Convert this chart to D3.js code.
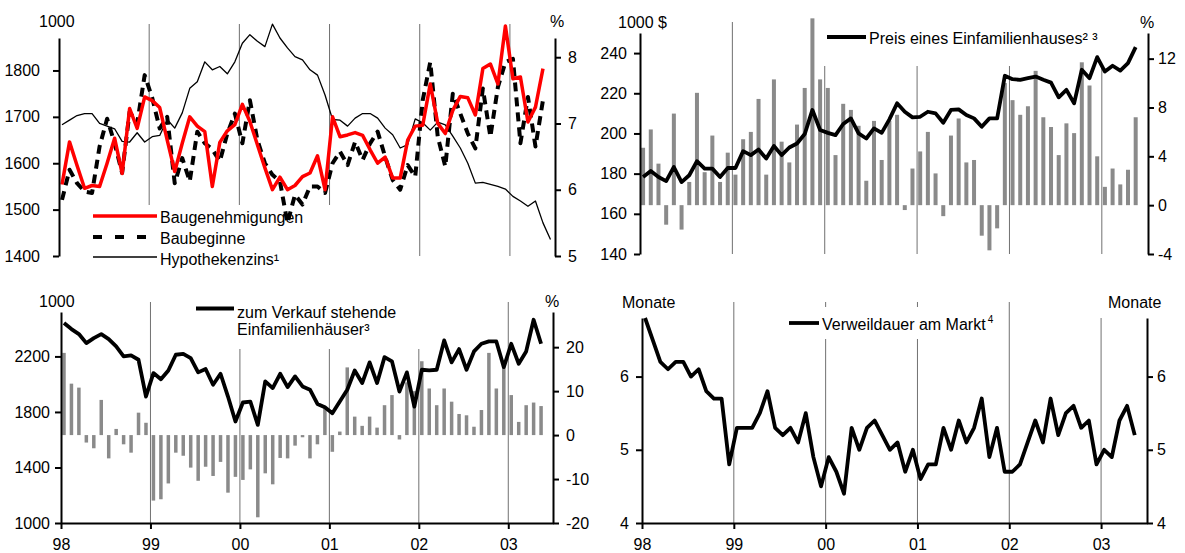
<!DOCTYPE html>
<html>
<head>
<meta charset="utf-8">
<script src="https://cdn.jsdelivr.net/npm/d3@7"></script>
<style>
  body { margin: 0; background: #fff; }
  svg text { font-family: "Liberation Sans", Arial, Helvetica, sans-serif; font-size: 16px; fill: #000; }
</style>
</head>
<body>
<svg id="chart" width="1185" height="553"></svg>
<script>
// monthly data, Jan 1998 .. May 2003 (Hypothekenzins to Jun 2003)
const years = ["98", "99", "00", "01", "02", "03"];

const baugenehmigungen = [1554, 1646, 1595, 1546, 1552, 1550, 1600, 1654, 1578, 1718, 1675, 1743,
  1735, 1720, 1650, 1582, 1643, 1700, 1680, 1668, 1550, 1645, 1670, 1683,
  1727, 1690, 1640, 1590, 1543, 1570, 1543, 1552, 1571, 1579, 1616, 1543,
  1700, 1657, 1661, 1666, 1660, 1629, 1600, 1613, 1568, 1568, 1650, 1680,
  1682, 1771, 1686, 1664, 1714, 1744, 1741, 1704, 1804, 1814, 1771, 1896,
  1782, 1786, 1689, 1721, 1804];

const baubeginne = [1521, 1586, 1557, 1539, 1536, 1636, 1696, 1643, 1579, 1711, 1686, 1790,
  1741, 1675, 1700, 1557, 1611, 1561, 1668, 1643, 1630, 1604, 1664, 1707,
  1643, 1736, 1650, 1600, 1575, 1561, 1471, 1532, 1511, 1550, 1550, 1536,
  1600, 1625, 1596, 1646, 1607, 1643, 1668, 1614, 1564, 1543, 1596, 1571,
  1736, 1818, 1657, 1593, 1750, 1707, 1664, 1632, 1761, 1657, 1764, 1818,
  1825, 1643, 1743, 1636, 1736];

const hypothekenzins = [6.98, 7.05, 7.12, 7.15, 7.15, 7.0, 6.96, 6.92, 6.73, 6.72, 6.86, 6.72,
  6.8, 6.82, 7.06, 6.93, 7.16, 7.53, 7.63, 7.93, 7.81, 7.86, 7.75, 7.93,
  8.21, 8.34, 8.24, 8.16, 8.5, 8.29, 8.14, 8.01, 7.96, 7.81, 7.73, 7.43,
  7.06, 7.05, 6.96, 7.08, 7.15, 7.15, 7.08, 6.93, 6.83, 6.63, 6.68, 7.07,
  7.01, 6.9, 7.02, 6.98, 6.81, 6.63, 6.4, 6.1, 6.11, 6.08, 6.05, 6.01,
  5.9, 5.83, 5.75, 5.83, 5.5, 5.25];

const hauspreis = [178.3, 181.3, 178.3, 176.3, 183.3, 175.8, 179.2, 186.2, 182.5, 182.5, 178.3, 182.8,
  182.8, 191.2, 189.2, 192, 187.5, 193.8, 189.2, 193, 195, 199.7, 211.7, 201.7,
  200.3, 199.2, 204.7, 207.5, 200, 197.5, 202.5, 200.3, 207, 215, 210.8, 208,
  208.3, 210.8, 210, 205.3, 211.7, 212, 209.2, 207.5, 203.3, 207.5, 207.5, 228.7,
  227, 226.7, 227.5, 228.3, 226.7, 225.3, 218, 221.7, 215, 231.7, 227.5, 238,
  230.8, 233.7, 231.3, 235, 243];

const hauspreisVj = [4.7, 6.2, 3.4, -1.6, 7.5, -2.0, 1.9, 9.2, 2.7, 5.7, 1.9, 4.3,
  2.5, 5.4, 6.0, 8.7, 2.5, 10.3, 5.2, 3.5, 6.6, 9.6, 15.3, 10.3,
  9.6, 4.1, 8.3, 7.8, 6.5, 2.0, 6.9, 3.7, 6.9, 7.4, -0.4, 3.0,
  4.4, 6.0, 2.6, -0.9, 5.7, 7.1, 3.5, 3.7, -2.5, -3.7, -1.9, 10.0,
  8.6, 7.4, 8.1, 11.0, 7.2, 6.4, 4.1, 6.7, 5.9, 11.7, 9.8, 4.0,
  1.5, 3.0, 1.7, 2.9, 7.2];

const angebot = [2440, 2397, 2361, 2296, 2332, 2361, 2325, 2272, 2200, 2207, 2176, 1911,
  2080, 2036, 2099, 2212, 2219, 2188, 2085, 2109, 1996, 2075, 1911, 1731,
  1868, 1875, 1707, 2020, 1972, 2075, 1979, 2056, 1984, 1960, 1858, 1834,
  1791, 1875, 1960, 2099, 2008, 2157, 2008, 2195, 2164, 1947, 2085, 1839,
  2104, 2099, 2104, 2315, 2157, 2253, 2104, 2236, 2291, 2308, 2308, 2123,
  2291, 2147, 2236, 2464, 2291];

const angebotVj = [18.7, 11.7, 10.8, -1.7, -3.0, 8.0, -5.3, 1.4, -2.1, -4.0, 5.1, 2.8,
  -14.9, -14.6, -11.0, -4.0, -4.7, -7.4, -10.4, -7.2, -9.3, -6.1, -13.1, -9.5,
  -10.2, -7.8, -18.7, -8.7, -11.2, -5.2, -5.3, -2.4, -0.5, -5.3, -2.1, 6.1,
  -3.8, 0.8, 15.4, 4.2, 2.1, 4.2, 1.7, 6.8, 9.1, -1.0, 12.0, 10.0,
  16.8, 10.6, 6.8, 10.6, 7.6, 4.8, 4.5, 1.9, 5.7, 18.7, 10.6, 15.4,
  9.1, 3.0, 6.8, 7.4, 6.6];

const verweildauer = [6.8, 6.5, 6.2, 6.1, 6.2, 6.2, 6.0, 6.1, 5.8, 5.7, 5.7, 4.8,
  5.3, 5.3, 5.3, 5.5, 5.8, 5.3, 5.2, 5.3, 5.1, 5.5, 4.9, 4.5,
  4.9, 4.7, 4.4, 5.3, 5.0, 5.3, 5.4, 5.2, 5.0, 5.1, 4.7, 5.0,
  4.6, 4.8, 4.8, 5.3, 5.0, 5.4, 5.1, 5.3, 5.7, 4.9, 5.3, 4.7,
  4.7, 4.8, 5.1, 5.4, 5.1, 5.7, 5.2, 5.5, 5.6, 5.3, 5.4, 4.8,
  5.0, 4.9, 5.4, 5.6, 5.2];

const svg = d3.select("#chart");
const MONTHS = 66;      // Jan 98 .. Jul 03
const OFF = 0.4;        // point position inside its month
const plain = d => String(d);   // "1800", "-4" (no grouping, plain hyphen)

function drawPanel(cfg) {
  const g = svg.append("g");
  const x = d3.scaleLinear().domain([0, MONTHS]).range([cfg.left, cfg.right]);
  const yL = d3.scaleLinear().domain(cfg.leftDomain).range([cfg.bottom, cfg.top]);
  const yR = d3.scaleLinear().domain(cfg.rightDomain).range([cfg.bottom, cfg.top]);

  // year separators
  g.selectAll(".yr").data([12, 24, 36, 48, 60]).join("line")
    .attr("x1", d => x(d)).attr("x2", d => x(d))
    .attr("y1", cfg.gridTop).attr("y2", cfg.bottom)
    .attr("stroke", "#707070").attr("stroke-width", 1);

  // white patches where the legend cuts the separators
  cfg.masks.forEach(m => {
    g.append("rect").attr("x", m[0]).attr("y", m[1]).attr("width", m[2]).attr("height", m[3]).attr("fill", "#fff");
  });

  // bars (right axis)
  if (cfg.bars) {
    g.selectAll(".bar").data(cfg.bars).join("rect")
      .attr("x", (d, i) => x(i + OFF) - cfg.barW / 2)
      .attr("width", cfg.barW)
      .attr("y", d => Math.min(yR(d), yR(0)))
      .attr("height", d => Math.abs(yR(d) - yR(0)))
      .attr("fill", "#8a8a8a");
  }

  // lines
  cfg.lines.forEach(l => {
    const sc = l.axis === "right" ? yR : yL;
    const gen = d3.line().x((d, i) => x(i + OFF)).y(d => sc(d));
    g.append("path").datum(l.data)
      .attr("d", gen)
      .attr("fill", "none")
      .attr("stroke", l.color)
      .attr("stroke-width", l.width)
      .attr("stroke-dasharray", l.dash || null)
      .attr("stroke-linejoin", "round");
  });

  // axes
  const la = g.append("g").attr("transform", `translate(${cfg.left},0)`)
    .call(d3.axisLeft(yL).tickValues(cfg.leftTicks).tickFormat(plain)
      .tickSize(6).tickSizeOuter(0).tickPadding(cfg.leftPad));
  const ra = g.append("g").attr("transform", `translate(${cfg.right},0)`)
    .call(d3.axisRight(yR).tickValues(cfg.rightTicks).tickFormat(plain)
      .tickSize(6).tickSizeOuter(0).tickPadding(cfg.rightPad));
  [la, ra].forEach(a => {
    a.select(".domain").attr("stroke", "#000").attr("stroke-width", 2);
    a.selectAll(".tick line").attr("stroke", "#000").attr("stroke-width", 2);
    a.selectAll("text").attr("font-size", 16).attr("font-family", null);
  });

  if (cfg.xAxis) {
    const xa = g.append("g").attr("transform", `translate(0,${cfg.bottom})`)
      .call(d3.axisBottom(x).tickValues([0, 12, 24, 36, 48, 60])
        .tickFormat((d, i) => years[i]).tickSize(6).tickSizeOuter(0).tickPadding(10));
    xa.select(".domain").attr("stroke", "#000").attr("stroke-width", 2);
    xa.selectAll(".tick line").attr("stroke", "#000").attr("stroke-width", 2);
    xa.selectAll("text").attr("font-size", 16).attr("font-family", null);
  }

  // unit labels
  cfg.units.forEach(u => {
    g.append("text").attr("x", u[0]).attr("y", u[1]).text(u[2]);
  });

  // legend
  cfg.legend.forEach(e => {
    g.append("line").attr("x1", e.x1).attr("x2", e.x2).attr("y1", e.y).attr("y2", e.y)
      .attr("stroke", e.color).attr("stroke-width", e.width)
      .attr("stroke-dasharray", e.dash || null);
    const t = g.append("text").attr("x", e.x2 + 3).attr("y", e.ty);
    e.text.forEach((s, k) => {
      if (typeof s === "string") {
        t.append("tspan").attr("x", k === 0 ? e.x2 + 3 : null).text(s);
      } else if (s.br) {
        t.append("tspan").attr("x", e.x2 + 3).attr("dy", s.br).text(s.t);
      } else {
        t.append("tspan").attr("font-size", 10).attr("dy", -7).attr("dx", 2).text(s.sup);
      }
    });
  });
}

// Baugenehmigungen / Baubeginne / Hypothekenzins
drawPanel({
  left: 59, right: 555, top: 38, bottom: 256, gridTop: 24,
  leftDomain: [1400, 1870], rightDomain: [5, 8.29],
  leftTicks: [1400, 1500, 1600, 1700, 1800], rightTicks: [5, 6, 7, 8],
  leftPad: 13, rightPad: 7,
  masks: [[140, 205, 200, 52]],
  lines: [
    { data: hypothekenzins, axis: "right", color: "#000", width: 1.3 },
    { data: baubeginne, axis: "left", color: "#000", width: 4, dash: "9,6" },
    { data: baugenehmigungen, axis: "left", color: "#ff0000", width: 3.5 }
  ],
  units: [[39, 26.5, "1000"], [550, 27, "%"]],
  legend: [
    { x1: 93, x2: 157, y: 216, ty: 222.5, color: "#ff0000", width: 3.5, text: ["Baugenehmigungen"] },
    { x1: 93, x2: 157, y: 237, ty: 244, color: "#000", width: 4, dash: "9,13", text: ["Baubeginne"] },
    { x1: 93, x2: 157, y: 257, ty: 265, color: "#000", width: 1.3, text: ["Hypothekenzins¹"] }
  ]
});

// Preis eines Einfamilienhauses
drawPanel({
  left: 640, right: 1148, top: 33, bottom: 254, gridTop: 22,
  leftDomain: [140, 250], rightDomain: [-4, 14.1],
  leftTicks: [140, 160, 180, 200, 220, 240], rightTicks: [-4, 0, 4, 8, 12],
  leftPad: 7, rightPad: 4, barW: 4,
  masks: [[740, 15, 400, 51]],
  bars: hauspreisVj,
  lines: [{ data: hauspreis, axis: "left", color: "#000", width: 3.8 }],
  units: [[618, 28, "1000 $"], [1140, 28, "%"]],
  legend: [
    { x1: 827, x2: 866, y: 37, ty: 43.5, color: "#000", width: 3.8, text: ["Preis eines Einfamilienhauses² ³"] }
  ]
});

// zum Verkauf stehende Einfamilienhäuser
drawPanel({
  left: 61, right: 553, top: 312, bottom: 523, gridTop: 302, xAxis: true,
  leftDomain: [1000, 2520], rightDomain: [-20, 28],
  leftTicks: [1000, 1400, 1800, 2200], rightTicks: [-20, -10, 0, 10, 20],
  leftPad: 5, rightPad: 7, barW: 3.5,
  masks: [[200, 298, 280, 51]],
  bars: angebotVj,
  lines: [{ data: angebot, axis: "left", color: "#000", width: 3.8 }],
  units: [[39, 306.5, "1000"], [545, 307, "%"]],
  legend: [
    { x1: 196, x2: 234, y: 308.5, ty: 318, color: "#000", width: 3.8,
      text: ["zum Verkauf stehende", { br: 17, t: "Einfamilienhäuser³" }] }
  ]
});

// Verweildauer am Markt
drawPanel({
  left: 642, right: 1147, top: 318, bottom: 523, gridTop: 302, xAxis: true,
  leftDomain: [4, 6.8], rightDomain: [4, 6.8],
  leftTicks: [4, 5, 6], rightTicks: [4, 5, 6],
  leftPad: 7, rightPad: 4,
  masks: [[780, 307, 180, 32], [1096, 298, 12, 20]],
  lines: [{ data: verweildauer, axis: "left", color: "#000", width: 3.8 }],
  units: [[622, 308, "Monate"], [1108, 308, "Monate"]],
  legend: [
    { x1: 789, x2: 819, y: 323, ty: 330, color: "#000", width: 3.8,
      text: ["Verweildauer am Markt", { sup: "4" }] }
  ]
});
</script>
</body>
</html>
